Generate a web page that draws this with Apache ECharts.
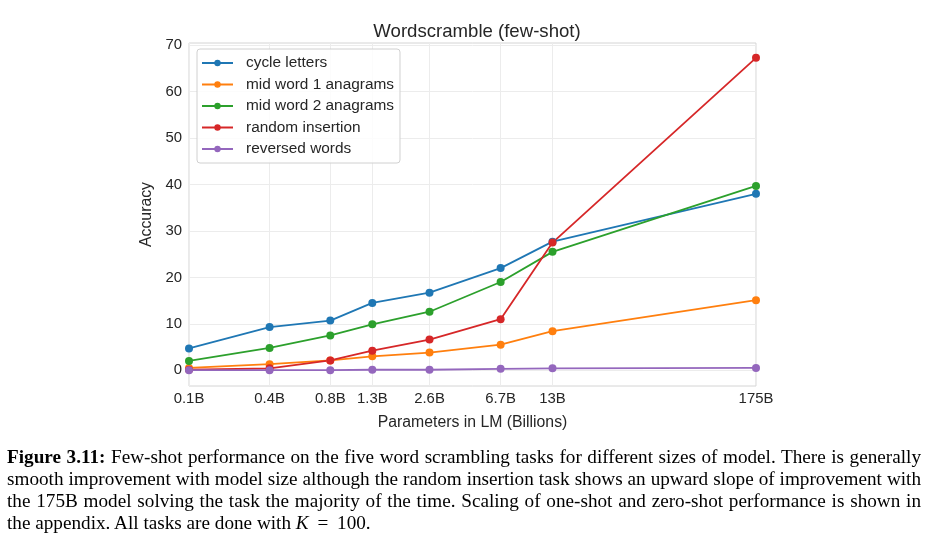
<!DOCTYPE html>
<html>
<head>
<meta charset="utf-8">
<script src="https://cdn.jsdelivr.net/npm/echarts@6/dist/echarts.min.js"></script>
<style>
  html, body { margin: 0; padding: 0; background: #fff; }
  #wrap { position: relative; width: 935px; height: 553px; }
  #chart { position: absolute; left: 0; top: 0; width: 935px; height: 553px; }
  #caption {
    position: absolute; left: 7px; top: 446px; width: 914px;
    font-family: "Liberation Serif", "Times New Roman", serif;
    font-size: 19.2px; line-height: 21.9px; color: #000;
  }
  #caption div { text-align: justify; text-align-last: justify; white-space: nowrap; }
  #caption div.last { text-align-last: left; }
  #caption .eq { margin: 0 4px; }
</style>
</head>
<body>
<div id="wrap">
  <div id="chart"></div>
  <div id="caption">
    <div><b>Figure 3.11:</b> Few-shot performance on the five word scrambling tasks for different sizes of model. There is generally</div>
    <div>smooth improvement with model size although the random insertion task shows an upward slope of improvement with</div>
    <div>the 175B model solving the task the majority of the time. Scaling of one-shot and zero-shot performance is shown in</div>
    <div class="last">the appendix. All tasks are done with <i>K</i>&nbsp;<span class="eq">=</span>&nbsp;100.</div>
  </div>
</div>
<script>
// model sizes (billions) and their tick labels
let params = [0.125, 0.35, 0.76, 1.3, 2.7, 6.7, 13, 175]
let paramLabels = ['0.1B', '0.4B', '0.8B', '1.3B', '2.6B', '6.7B', '13B', '175B']
let yTicks = [0, 10, 20, 30, 40, 50, 60, 70]

let cycleLetters = [4.7, 9.3, 10.7, 14.5, 16.7, 22.0, 27.7, 38.0]
let midWord1 = [0.5, 1.3, 2.1, 3.0, 3.8, 5.5, 8.4, 15.1]
let midWord2 = [2.0, 4.8, 7.5, 9.9, 12.6, 19.0, 25.5, 39.7]
let randomInsertion = [0.1, 0.4, 2.1, 4.2, 6.6, 11.0, 27.5, 67.3]
let reversedWords = [0.0, 0.0, 0.0, 0.1, 0.1, 0.3, 0.4, 0.5]

let names = ['cycle letters', 'mid word 1 anagrams', 'mid word 2 anagrams', 'random insertion', 'reversed words']
let colors = ['#1f77b4', '#ff7f0e', '#2ca02c', '#d62728', '#9467bd']
let allData = [cycleLetters, midWord1, midWord2, randomInsertion, reversedWords]

function pairs (ys) {
  let out = []
  for (let i in ys) {
    out.push([params[i], ys[i]])
  }
  return out
}

function labelFor (v) {
  let best = 0
  for (let i = 0; i < params.length; i++) {
    if (Math.abs(Math.log(params[i]) - Math.log(v)) < Math.abs(Math.log(params[best]) - Math.log(v))) best = i
  }
  return paramLabels[best]
}

let textColor = '#262626'
let font = '"Liberation Sans", Arial, sans-serif'

let series = []
for (let k = 0; k < names.length; k++) {
  series.push({
    name: names[k],
    type: 'line',
    data: pairs(allData[k]),
    symbol: 'circle',
    symbolSize: 8,
    lineStyle: { width: 1.8, color: colors[k] },
    itemStyle: { color: colors[k] },
    animation: false
  })
}

let myChart = echarts.init(document.getElementById('chart'), null, { renderer: 'canvas' })
myChart.setOption({
  animation: false,
  color: colors,
  title: {
    text: 'Wordscramble (few-shot)',
    left: 472,
    textAlign: 'center',
    top: 17,
    textStyle: { color: textColor, fontFamily: font, fontSize: 18.6, fontWeight: 'normal' }
  },
  legend: {
    orient: 'vertical',
    left: 197,
    top: 49,
    padding: [6.5, 6, 6.5, 4],
    itemWidth: 31,
    itemHeight: 8,
    itemGap: 6.5,
    backgroundColor: 'rgba(255,255,255,0.85)',
    borderColor: '#d0d0d0',
    borderWidth: 1,
    borderRadius: 3,
    textStyle: { color: textColor, fontFamily: font, fontSize: 15.4, padding: [0, 0, 0, 8] },
    data: names
  },
  grid: {
    left: 189,
    right: 179,
    top: 43,
    bottom: 167,
    show: true,
    borderColor: '#d4d4d4',
    borderWidth: 1
  },
  xAxis: {
    type: 'log',
    logBase: 10,
    min: 0.125,
    max: 175,
    name: 'Parameters in LM (Billions)',
    nameLocation: 'middle',
    nameGap: 29,
    nameTextStyle: { color: textColor, fontFamily: font, fontSize: 15.8 },
    axisLine: { show: false },
    axisTick: { show: false, customValues: params },
    axisLabel: {
      customValues: params,
      formatter: labelFor,
      color: textColor,
      fontFamily: font,
      fontSize: 14.9,
      margin: 5
    },
    splitLine: { show: true, lineStyle: { color: '#ececec', width: 1 } },
    minorSplitLine: { show: false }
  },
  yAxis: {
    type: 'value',
    min: -3.4,
    max: 70.5,
    name: 'Accuracy',
    nameLocation: 'middle',
    nameGap: 32,
    nameTextStyle: { color: textColor, fontFamily: font, fontSize: 15.8 },
    axisLine: { show: false },
    axisTick: { show: false, customValues: yTicks },
    axisLabel: {
      customValues: yTicks,
      color: textColor,
      fontFamily: font,
      fontSize: 14.9,
      margin: 7
    },
    splitLine: { show: true, lineStyle: { color: '#ececec', width: 1 } }
  },
  series: series
})
</script>
</body>
</html>
